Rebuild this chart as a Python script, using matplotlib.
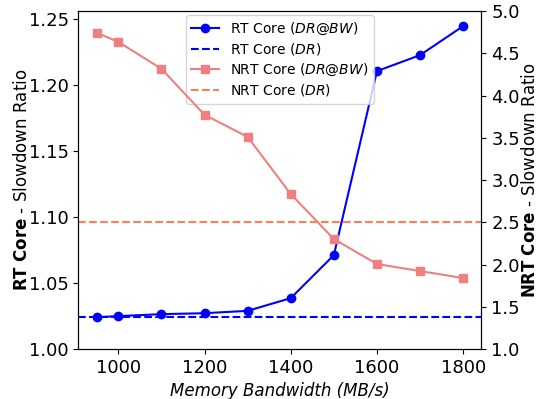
import matplotlib
matplotlib.use("Agg")
import matplotlib.pyplot as plt

bandwidth = [950, 1000, 1100, 1200, 1300, 1400, 1500, 1600, 1700, 1800]
rt_dr_bw = [1.0242, 1.0250, 1.0265, 1.0272, 1.0290, 1.0386, 1.0712, 1.2106, 1.2227, 1.2447]
rt_dr = 1.024
nrt_dr_bw = [4.744, 4.637, 4.318, 3.773, 3.512, 2.836, 2.303, 2.007, 1.924, 1.841]
nrt_dr = 2.5

fig, ax = plt.subplots(figsize=(5.41, 3.99), dpi=100)
ax2 = ax.twinx()

l1, = ax.plot(bandwidth, rt_dr_bw, color="blue", marker="o", markersize=6,
              label=r"RT Core ($\mathit{DR@BW}$)")
l2 = ax.axhline(rt_dr, color="blue", linestyle="--", label=r"RT Core ($\mathit{DR}$)")
l3, = ax2.plot(bandwidth, nrt_dr_bw, color="#F08080", marker="s", markersize=6,
               label=r"NRT Core ($\mathit{DR@BW}$)")
l4 = ax2.axhline(nrt_dr, color="#FF7F50", linestyle="--", label=r"NRT Core ($\mathit{DR}$)")

ax.set_xlim(907.5, 1842.5)
ax.set_ylim(1.0, 1.256)
ax2.set_ylim(1.0, 5.0)
ax.set_xticks([1000, 1200, 1400, 1600, 1800])
ax.set_yticks([1.00, 1.05, 1.10, 1.15, 1.20, 1.25])
ax2.set_yticks([1.0, 1.5, 2.0, 2.5, 3.0, 3.5, 4.0, 4.5, 5.0])

ax.tick_params(labelsize=13)
ax2.tick_params(labelsize=13)

ax.set_xlabel("Memory Bandwidth (MB/s)", fontsize=12, style="italic")
ax.set_ylabel(r"$\bf{RT\ Core}$ - Slowdown Ratio", fontsize=12, labelpad=-2)
ax2.set_ylabel(r"$\bf{NRT\ Core}$ - Slowdown Ratio", fontsize=12, labelpad=1)

ax.legend(handles=[l1, l2, l3, l4], loc="upper center", fontsize=10,
          borderaxespad=0.3, labelspacing=0.3)

fig.subplots_adjust(left=0.145, right=0.89, top=0.972, bottom=0.125)
fig.savefig("out.png", dpi=100)
